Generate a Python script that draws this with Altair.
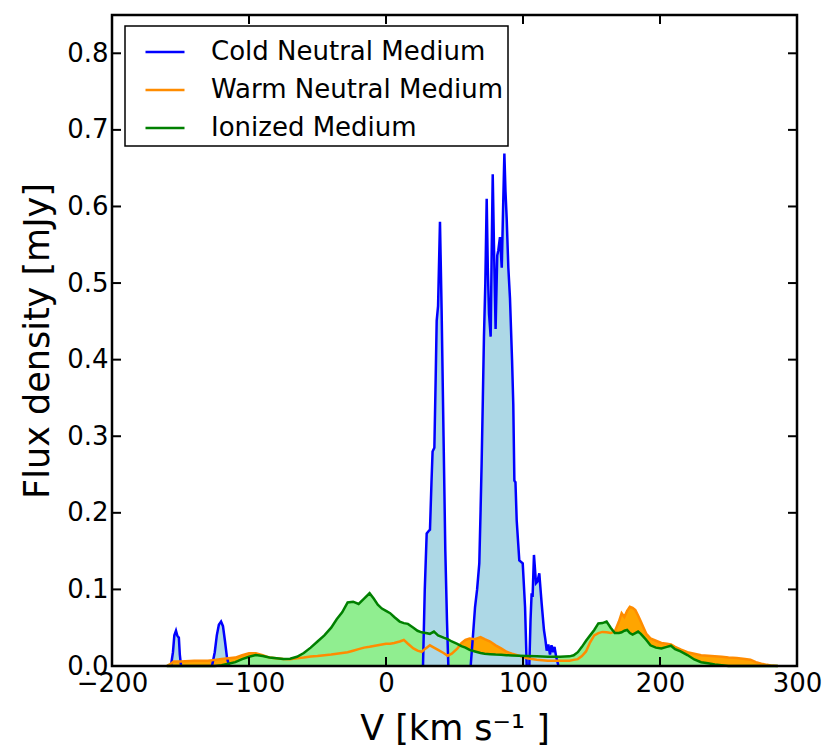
import altair as alt
import pandas as pd

FONT = "DejaVu Sans"
W, H = 685, 651

# ---------------- data ----------------
SERIES = ["Cold Neutral Medium", "Warm Neutral Medium", "Ionized Medium"]
LINE_COLORS = ["#0000ff", "#ff8c00", "#008000"]

X_TICKS = [-200, -100, 0, 100, 200, 300]
Y_TICKS = [0.0, 0.1, 0.2, 0.3, 0.4, 0.5, 0.6, 0.7, 0.8]

# common velocity grid for warm neutral and ionized components
V_GRID = [-160, -157, -155, -150, -140, -130, -125, -120, -115, -110,
          -105, -100, -95, -90, -85, -80, -75, -70, -65, -60,
          -55, -50, -45, -40, -36, -32, -28, -24, -20, -16,
          -12, -9, -6, -3, 0, 3, 6, 10, 13, 16,
          20, 23, 26, 29, 32, 35, 38, 42, 45, 48,
          52, 55, 58, 61, 65, 69, 72, 76, 80, 84,
          88, 92, 97, 103, 110, 118, 127, 134, 137, 140,
          143, 146, 149, 152, 155, 158, 161, 164, 167, 170,
          172, 174, 176, 178, 180, 182, 184, 186, 188, 190,
          193, 197, 201, 205, 208, 211, 215, 220, 225, 230,
          235, 240, 245, 250, 256, 262, 266, 270, 274, 278,
          282, 286]

ION_F = [0, 0, 0, 0, 0, 0, 0, 0.001, 0.003, 0.005,
         0.009, 0.012, 0.0143, 0.013, 0.011, 0.010, 0.009, 0.0095, 0.012, 0.017,
         0.024, 0.032, 0.040, 0.050, 0.061, 0.070, 0.083, 0.084, 0.081, 0.088,
         0.095, 0.088, 0.080, 0.075, 0.072, 0.069, 0.064, 0.058, 0.056, 0.055,
         0.050, 0.046, 0.044, 0.043, 0.042, 0.045, 0.040, 0.037, 0.035, 0.032,
         0.029, 0.026, 0.024, 0.021, 0.019, 0.017, 0.016, 0.0155, 0.015, 0.0148,
         0.014, 0.0138, 0.0135, 0.013, 0.0126, 0.012, 0.012, 0.0126, 0.014, 0.018,
         0.025, 0.033, 0.040, 0.047, 0.0556, 0.056, 0.058, 0.050, 0.043, 0.043,
         0.044, 0.046, 0.047, 0.043, 0.041, 0.043, 0.045, 0.042, 0.038, 0.034,
         0.027, 0.024, 0.023, 0.025, 0.0265, 0.022, 0.019, 0.0143, 0.0085, 0.005,
         0.0035, 0.002, 0.001, 0, 0, 0, 0, 0, 0, 0,
         0, 0]

WNM_F = [0, 0.003, 0.006, 0.006, 0.007, 0.007, 0.008, 0.009, 0.010, 0.011,
         0.014, 0.0165, 0.0165, 0.014, 0.011, 0.010, 0.009, 0.0087, 0.010, 0.011,
         0.0125, 0.013, 0.014, 0.015, 0.016, 0.017, 0.018, 0.020, 0.022, 0.024,
         0.025, 0.026, 0.027, 0.028, 0.029, 0.029, 0.030, 0.032, 0.034, 0.029,
         0.023, 0.020, 0.0186, 0.023, 0.027, 0.024, 0.021, 0.017, 0.0134, 0.016,
         0.0226, 0.030, 0.034, 0.036, 0.035, 0.0377, 0.035, 0.032, 0.027, 0.023,
         0.0186, 0.016, 0.0135, 0.010, 0.0082, 0.007, 0.0069, 0.007, 0.008, 0.009,
         0.013, 0.019, 0.031, 0.040, 0.043, 0.0445, 0.044, 0.043, 0.045, 0.058,
         0.069, 0.064, 0.072, 0.0774, 0.076, 0.073, 0.066, 0.058, 0.050, 0.042,
         0.036, 0.033, 0.030, 0.029, 0.028, 0.025, 0.0217, 0.018, 0.016, 0.014,
         0.0133, 0.0127, 0.012, 0.011, 0.0104, 0.009, 0.0082, 0.005, 0.003, 0.0015,
         0.0005, 0]

# cold neutral medium: separate narrow components
CNM1_V = [-157.0, -155.5, -154.5, -153.3, -152.4, -151.2, -150.5, -149.6]
CNM1_F = [0.0, 0.018, 0.040, 0.046, 0.040, 0.037, 0.015, 0.0]
CNM2_V = [-127.0, -125.0, -123.5, -122.0, -120.4, -119.0, -117.5, -116.0, -114.5]
CNM2_F = [0.0, 0.018, 0.040, 0.054, 0.058, 0.052, 0.032, 0.010, 0.0]
CNM3_V = [27.0, 28.3, 29.7, 31.0, 32.1, 33.2, 34.0, 35.3, 36.2, 37.0, 38.0,
          39.4, 40.6, 42.0, 43.3, 44.5, 45.5]
CNM3_F = [0.0, 0.10, 0.173, 0.176, 0.178, 0.24, 0.28, 0.285, 0.37, 0.451, 0.47,
          0.580, 0.464, 0.30, 0.15, 0.06, 0.0]
CNM4_V = [61.8, 63.5, 65.0, 66.5, 68.1, 69.0, 69.8, 70.7, 71.5, 72.5,
          73.5, 74.3, 75.2, 76.4, 77.2, 77.9, 78.8, 80.0, 81.2, 82.0,
          83.2, 84.5, 85.5, 86.4, 87.2, 88.1, 89.3, 90.5, 92.0, 92.9,
          93.7, 94.5, 95.4, 97.3, 99.8, 101.5, 102.7]
CNM4_F = [0.0, 0.040, 0.077, 0.100, 0.134, 0.200, 0.264, 0.350, 0.430, 0.500,
          0.610, 0.520, 0.460, 0.430, 0.550, 0.642, 0.550, 0.440, 0.536, 0.543,
          0.560, 0.520, 0.600, 0.669, 0.620, 0.584, 0.520, 0.480, 0.400, 0.342,
          0.242, 0.240, 0.190, 0.138, 0.134, 0.077, 0.0]
CNM5_V = [104.6, 105.5, 106.3, 107.0, 108.0, 109.5, 110.5, 111.9, 112.8, 113.6,
          115.3, 116.3, 117.3, 118.5, 119.7, 120.8, 122.0, 123.0, 124.2, 125.9]
CNM5_F = [0.0, 0.060, 0.095, 0.090, 0.145, 0.108, 0.110, 0.121, 0.100, 0.082,
          0.047, 0.035, 0.020, 0.028, 0.015, 0.027, 0.018, 0.025, 0.012, 0.0]

# ---------------- tables ----------------
rows = []
for i, (vs, fs) in enumerate([(CNM1_V, CNM1_F), (CNM2_V, CNM2_F), (CNM3_V, CNM3_F),
                              (CNM4_V, CNM4_F), (CNM5_V, CNM5_F)]):
    for v, f in zip(vs, fs):
        rows.append({"v": v, "f": f, "seg": f"c{i}", "series": SERIES[0]})
df_cold = pd.DataFrame(rows)
df_warm = pd.DataFrame({"v": V_GRID, "f": WNM_F, "series": SERIES[1]})
df_ion = pd.DataFrame({"v": V_GRID, "f": ION_F, "series": SERIES[2]})
df_band = pd.DataFrame({"v": V_GRID, "warm": WNM_F, "ion": ION_F})
df_xt = pd.DataFrame({"v": X_TICKS})
df_yt = pd.DataFrame({"f": Y_TICKS})

# ---------------- scales / axes ----------------
xscale = alt.Scale(domain=[-200, 300], nice=False, zero=False)
yscale = alt.Scale(domain=[0, 0.85], nice=False)

xaxis = alt.Axis(values=X_TICKS, format="d", grid=False, ticks=False, domain=False,
                 labelFont=FONT, labelFontSize=26, labelColor="black", labelPadding=4,
                 labelFlush=False, labelOverlap=False, labelBound=False,
                 title="V [km s⁻¹ ]", titleFont=FONT, titleFontSize=35,
                 titleFontWeight="normal", titleColor="black",
                 titleX=W / 2, titleY=73, titleAlign="center", titleBaseline="alphabetic")
yaxis = alt.Axis(values=Y_TICKS, format=".1f", grid=False, ticks=False, domain=False,
                 labelFont=FONT, labelFontSize=26, labelColor="black", labelPadding=4,
                 labelFlush=False, labelOverlap=False, labelBound=False,
                 title="Flux density [mJy]", titleFont=FONT, titleFontSize=35,
                 titleFontWeight="normal", titleColor="black", titleAngle=270,
                 titleX=-64, titleY=H / 2, titleAlign="center", titleBaseline="alphabetic")

X = alt.X("v:Q", scale=xscale, axis=xaxis)


def Y(field):
    return alt.Y(f"{field}:Q", scale=yscale, axis=yaxis)


color = alt.Color(
    "series:N",
    scale=alt.Scale(domain=SERIES, range=LINE_COLORS),
    legend=alt.Legend(orient="none", legendX=13, legendY=11, title=None,
                      symbolType="stroke", symbolSize=1521, symbolStrokeWidth=2.5,
                      labelFont=FONT, labelFontSize=26, labelColor="black",
                      labelLimit=500, labelOffset=25, symbolOffset=14,
                      padding=5, rowPadding=4,
                      fillColor="white", strokeColor="black", cornerRadius=0),
)

# ---------------- layers ----------------
ion_area = alt.Chart(df_ion).mark_area(color="#90ee90", opacity=1).encode(x=X, y=Y("f"))
cold_area = alt.Chart(df_cold).mark_area(color="#add8e6", opacity=1).encode(
    x=X, y=Y("f"), detail="seg:N")
warm_band = alt.Chart(df_band).transform_calculate(
    lo="min(datum.warm, datum.ion)"
).mark_area(color="#ffa500", opacity=1).encode(x=X, y=Y("warm"), y2="lo:Q")

LW = 2.5
cold_line = alt.Chart(df_cold).mark_line(strokeWidth=LW).encode(
    x=X, y=Y("f"), color=color, detail="seg:N")
warm_line = alt.Chart(df_warm).mark_line(strokeWidth=LW).encode(x=X, y=Y("f"), color=color)
ion_line = alt.Chart(df_ion).mark_line(strokeWidth=LW).encode(x=X, y=Y("f"), color=color)

TL = 9
xt_bottom = alt.Chart(df_xt).mark_rule(color="black", strokeWidth=2).encode(
    x=X, y=alt.value(H), y2=alt.value(H - TL))
xt_top = alt.Chart(df_xt).mark_rule(color="black", strokeWidth=2).encode(
    x=X, y=alt.value(0), y2=alt.value(TL))
yt_left = alt.Chart(df_yt).mark_rule(color="black", strokeWidth=2).encode(
    y=Y("f"), x=alt.value(0), x2=alt.value(TL))
yt_right = alt.Chart(df_yt).mark_rule(color="black", strokeWidth=2).encode(
    y=Y("f"), x=alt.value(W), x2=alt.value(W - TL))

border = alt.Chart(pd.DataFrame({"a": [0]})).mark_rect(
    filled=False, stroke="black", strokeWidth=2.5).encode(
    x=alt.value(0), x2=alt.value(W), y=alt.value(0), y2=alt.value(H))

chart = alt.layer(
    ion_area, cold_area, warm_band,
    cold_line, warm_line, ion_line,
    xt_bottom, xt_top, yt_left, yt_right, border,
).properties(
    width=W, height=H,
    autosize=alt.AutoSizeParams(type="none"),
    padding={"left": 104, "top": 7, "right": 25, "bottom": 83},
).configure_view(stroke=None).configure_legend(strokeWidth=1.5)

chart.save("out.html", embed_options={"renderer": "svg", "actions": False})
